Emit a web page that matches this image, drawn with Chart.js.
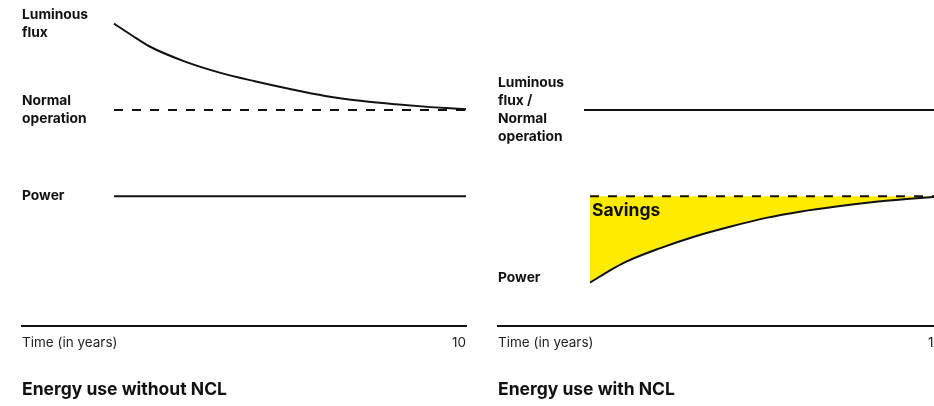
<!DOCTYPE html>
<html><head><meta charset="utf-8">
<script src="https://cdn.jsdelivr.net/npm/chart.js@4.4.1/dist/chart.umd.min.js"></script>
<style>
html,body{margin:0;padding:0;background:#fff;overflow:hidden;width:934px;height:406px;}
.panel{position:absolute;top:0;width:470px;height:406px;}
#p1{left:0}
#p2{left:476px}
</style></head><body>
<div class="panel" id="p1"><canvas id="c1"></canvas></div>
<div class="panel" id="p2"><canvas id="c2"></canvas></div>
<script>
// ---- data ----
const years = [0,0.5,1,2,3,4,5,6,7,8,9,10];
const fluxWithoutNCL = [140,134.6,129.5,122.5,117.3,113.3,109.7,106.5,104.2,102.6,101.3,100.3];
const normalOperation = 100;
const powerWithoutNCL = 60;
const fluxWithNCLStart = -0.17;
const powerWithNCL = [20,25,29.5,36,41.5,46,50,53,55.3,57.2,58.7,60];
const leftTickValues = [140,100,60];
const leftTickLabels = [['Luminous','flux'],['Normal','operation'],['Power']];
const rightTickValues = [100,22];
const rightTickLabels = [['Luminous','flux /','Normal','operation'],['Power']];
const xTickLabels = ['Time (in years)','10'];
const titles = ['Energy use without NCL','Energy use with NCL'];
const savingsLabel = 'Savings';

// ---- styling / scale range ----
const X_MIN = -2.614, X_MAX = 10, Y_MIN = 0, Y_MAX = 150;
const INK = '#111';
const YELLOW = '#FFEB00';
const FAMILY = 'Inter, "Liberation Sans", Arial, sans-serif';
Chart.defaults.font.family = FAMILY;
Chart.defaults.color = INK;

const first = years[0], last = years[years.length-1];
const pts = (xs, ys) => xs.map((x,i)=>({x, y: ys[i]}));
const lineDs = (data, extra) => Object.assign({
  data, borderColor: INK, borderWidth: 2, pointRadius: 0, fill: false,
  cubicInterpolationMode: 'monotone'
}, extra || {});

function makeChart(id, datasets, tickValues, tickLabels, title, plugins) {
  return new Chart(document.getElementById(id), {
    type: 'line',
    data: { datasets },
    plugins: plugins || [],
    options: {
      responsive: true, maintainAspectRatio: false, animation: false, devicePixelRatio: 1,
      layout: { padding: { left: 22, right: 4, top: 2, bottom: 0 } },
      events: [],
      plugins: {
        legend: { display: false }, tooltip: { enabled: false },
        title: { display: true, text: title, position: 'bottom', align: 'start',
          color: INK, font: { size: 17.5, weight: 'bold', lineHeight: 1.2 },
          padding: { top: 19, bottom: 6 } }
      },
      scales: {
        x: {
          type: 'linear', min: X_MIN, max: X_MAX,
          grid: { display: false, drawTicks: false },
          border: { display: true, color: INK, width: 2 },
          ticks: { align: 'inner', padding: 9, maxRotation: 0, autoSkip: false,
            color: '#222', font: { size: 13.5 },
            callback: (v, i) => xTickLabels[i] },
          afterBuildTicks: s => { s.ticks = [{ value: X_MIN }, { value: X_MAX }]; },
          afterFit: s => { s.paddingLeft = 0; s.paddingRight = 0; }
        },
        y: {
          min: Y_MIN, max: Y_MAX,
          grid: { display: false, drawTicks: false },
          border: { display: false },
          ticks: { mirror: true, padding: 0, crossAlign: 'near', autoSkip: false,
            color: INK, font: { size: 13.8, weight: 'bold', lineHeight: 1.3 },
            callback: (v) => tickLabels[tickValues.indexOf(v)] },
          afterBuildTicks: s => { s.ticks = tickValues.map(v => ({ value: v })); },
          afterFit: s => { s.paddingTop = 0; s.paddingBottom = 0; s.width = 0; }
        }
      }
    }
  });
}

// Left: without NCL
makeChart('c1', [
  lineDs(pts(years, fluxWithoutNCL)),
  lineDs(pts([first, last], [normalOperation, normalOperation]), { borderDash: [9, 9] }),
  lineDs(pts([first, last], [powerWithoutNCL, powerWithoutNCL]))
], leftTickValues, leftTickLabels, titles[0]);

// Right: with NCL
const savingsPlugin = {
  id: 'savings',
  afterDatasetsDraw(chart) {
    const { ctx, scales: { x, y } } = chart;
    ctx.save();
    ctx.font = 'bold 17.5px ' + FAMILY;
    ctx.fillStyle = INK;
    ctx.textBaseline = 'alphabetic';
    ctx.textAlign = 'left';
    ctx.fillText(savingsLabel, x.getPixelForValue(first) + 2, y.getPixelForValue(powerWithoutNCL) + 20);
    ctx.restore();
  }
};
makeChart('c2', [
  lineDs(pts([fluxWithNCLStart, last], [normalOperation, normalOperation])),
  lineDs(pts([first, last], [powerWithoutNCL, powerWithoutNCL]), { borderDash: [9, 9] }),
  lineDs(pts(years, powerWithNCL), { fill: { value: powerWithoutNCL }, backgroundColor: YELLOW })
], rightTickValues, rightTickLabels, titles[1], [savingsPlugin]);
</script>
</body></html>
